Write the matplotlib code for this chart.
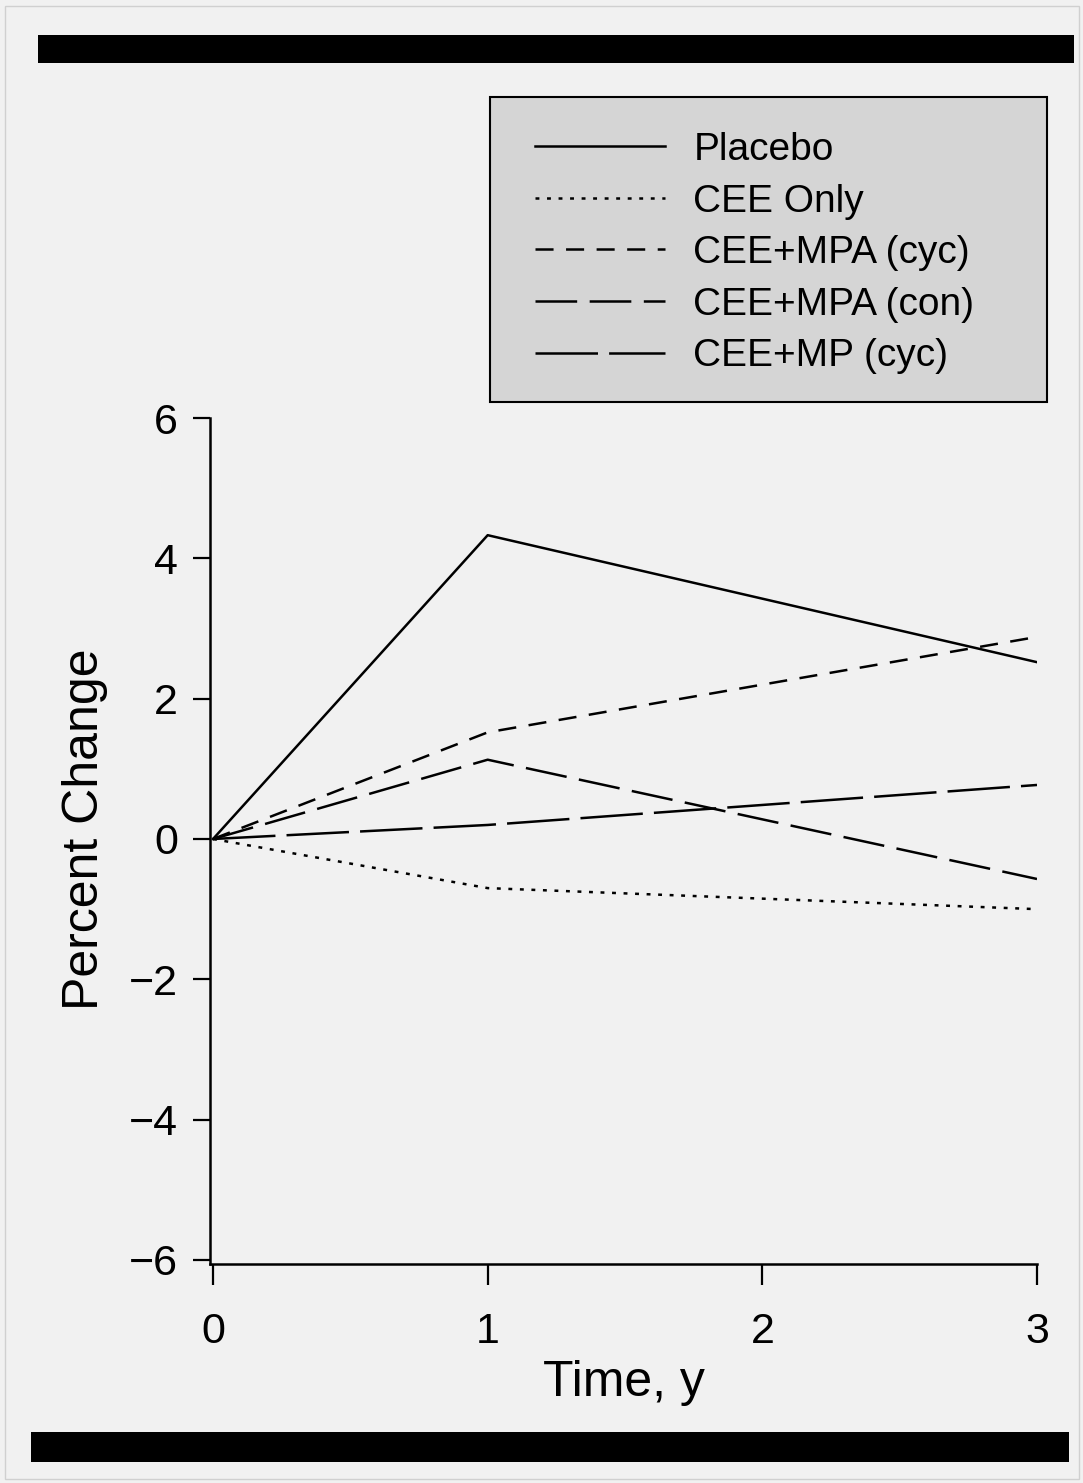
import matplotlib.pyplot as plt
from matplotlib.patches import Rectangle

plt.rcParams['font.family'] = ['Liberation Sans', 'DejaVu Sans']
plt.rcParams['lines.scale_dashes'] = False

years = [0, 1, 3]
placebo = [0, 4.33, 2.52]
cee_only = [0, -0.70, -1.0]
mpa_cyc = [0, 1.52, 2.88]
mpa_con = [0, 1.13, -0.57]
mp_cyc = [0, 0.20, 0.77]

labels = ["Placebo", "CEE Only", "CEE+MPA (cyc)", "CEE+MPA (con)", "CEE+MP (cyc)"]
series = [placebo, cee_only, mpa_cyc, mpa_con, mp_cyc]
dashes = [None, (2.8, 5.5), (13, 9), (30, 9), (45, 8)]

W, H = 1083, 1483
fig = plt.figure(figsize=(W / 100, H / 100), dpi=100)
fig.patch.set_facecolor('#f1f1f1')


def px(x0, y0, x1, y1):
    # pixel box -> figure fraction rect
    return (x0 / W, 1 - y1 / H, (x1 - x0) / W, (y1 - y0) / H)


ax = fig.add_axes(px(210, 418, 1037, 1263.5))
ax.set_facecolor('none')

handles = []
for vals, lab, d in zip(series, labels, dashes):
    ln, = ax.plot(years, vals, color='black', lw=1.8, label=lab)
    if d is not None:
        ln.set_dashes(d)
    handles.append(ln)

ax.set_xlim(-0.011, 3.0)
ax.set_ylim(-6.05, 6)
ax.set_xticks([0, 1, 2, 3])
ax.set_yticks([-6, -4, -2, 0, 2, 4, 6])
ax.set_yticklabels(['\u22126', '\u22124', '\u22122', '0', '2', '4', '6'])
for s in ['top', 'right']:
    ax.spines[s].set_visible(False)
for s in ['left', 'bottom']:
    ax.spines[s].set_linewidth(1.8)
ax.tick_params(axis='both', direction='out', width=1.6, labelsize=31)
ax.tick_params(axis='y', length=12, pad=11)
ax.tick_params(axis='x', length=15, pad=20)
ax.set_xlabel("Time, y", fontsize=36, labelpad=6)
ax.set_ylabel("Percent Change", fontsize=36)
ax.yaxis.set_label_coords(-0.123, 0.514)

# legend box drawn separately, legend itself without frame
fig.patches.append(Rectangle(px(490, 97, 1047, 402)[:2], (1047 - 490) / W, (402 - 97) / H,
                             transform=fig.transFigure, facecolor='#d5d5d5',
                             edgecolor='black', lw=1.5, zorder=1))
leg = fig.legend(handles=handles, loc='upper left',
                 bbox_to_anchor=(535 / W, 1 - 132 / H), frameon=False,
                 fontsize=28, handlelength=3.35, handletextpad=0.72,
                 labelspacing=0.40, borderpad=0, borderaxespad=0)
leg.set_zorder(2)

# black rules at top and bottom
fig.patches.append(Rectangle(px(38, 35, 1074, 63)[:2], (1074 - 38) / W, 28 / H,
                             transform=fig.transFigure, facecolor='black', lw=0))
fig.patches.append(Rectangle(px(31, 1432, 1069, 1462)[:2], (1069 - 31) / W, 30 / H,
                             transform=fig.transFigure, facecolor='black', lw=0))
fig.patches.append(Rectangle(px(5, 6, 1079, 1479)[:2], 1074 / W, 1473 / H,
                             transform=fig.transFigure, facecolor='none',
                             edgecolor='#d0d0d0', lw=1))

fig.savefig("out.png", dpi=100, facecolor=fig.get_facecolor())
